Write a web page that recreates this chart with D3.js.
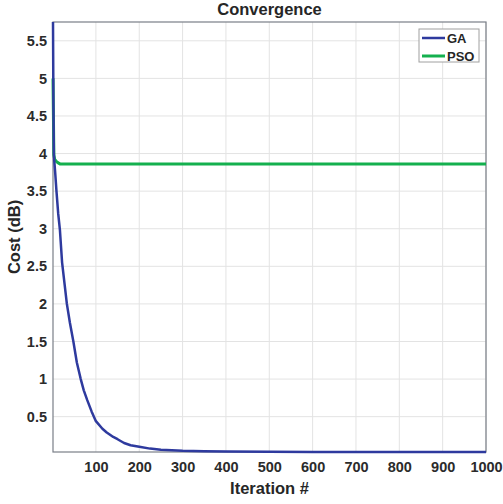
<!DOCTYPE html>
<html>
<head>
<meta charset="utf-8">
<script src="https://cdn.jsdelivr.net/npm/d3@7"></script>
<style>
body { margin: 0; background: #fff; }
text { font-family: "Liberation Sans", Arial, sans-serif; font-weight: bold; fill: #262626; }
.grid-line { stroke: #e3e3e3; stroke-width: 1; }
</style>
</head>
<body>
<div id="chart"></div>
<script>
// iterations + cost
var gaIter = [1, 2, 3, 4, 6, 9, 13, 17, 22, 28, 33, 40, 48, 56, 65, 72, 80, 90, 100, 115, 125, 140, 150, 165, 180, 200, 225, 250, 300, 350, 400, 500, 600, 1000];
var gaCost = [5.75, 4.65, 4.0, 3.9, 3.75, 3.5, 3.2, 2.98, 2.55, 2.25, 2.0, 1.75, 1.5, 1.22, 1.0, 0.85, 0.72, 0.57, 0.44, 0.34, 0.29, 0.23, 0.2, 0.15, 0.12, 0.1, 0.075, 0.06, 0.045, 0.04, 0.035, 0.032, 0.03, 0.03];
var psoIter = [1, 3, 5, 8, 12, 18, 1000];
var psoCost = [5.0, 3.98, 3.92, 3.9, 3.88, 3.86, 3.86];

var xTicks = [100, 200, 300, 400, 500, 600, 700, 800, 900, 1000];
var yTicks = [0.5, 1, 1.5, 2, 2.5, 3, 3.5, 4, 4.5, 5, 5.5];
var seriesNames = ["GA", "PSO"];
var colours = ["#2e3a9e", "#14b04e"];

var margin = { top: 22, right: 17, bottom: 52, left: 53 };
var width = 503 - margin.left - margin.right,
    height = 504 - margin.top - margin.bottom;

var svg = d3.select("#chart").append("svg")
    .attr("width", 503)
    .attr("height", 504)
    .append("g")
    .attr("transform", "translate(" + margin.left + "," + margin.top + ")");

var x = d3.scaleLinear().domain([1, 1000]).range([0, width]);
var y = d3.scaleLinear().domain([0.03, 5.75]).range([height, 0]);

// grid
svg.append("g").selectAll("line")
    .data(xTicks)
    .enter().append("line")
    .attr("class", "grid-line")
    .attr("x1", function(d) { return x(d); })
    .attr("x2", function(d) { return x(d); })
    .attr("y1", 0)
    .attr("y2", height);
svg.append("g").selectAll("line")
    .data(yTicks)
    .enter().append("line")
    .attr("class", "grid-line")
    .attr("x1", 0)
    .attr("x2", width)
    .attr("y1", function(d) { return y(d); })
    .attr("y2", function(d) { return y(d); });

// axes
var xAxis = d3.axisBottom(x).tickValues(xTicks).tickSize(0).tickPadding(10)
    .tickFormat(function(d) { return d; });
var yAxis = d3.axisLeft(y).tickValues(yTicks).tickSize(0).tickPadding(6)
    .tickFormat(function(d) { return d; });

var xAxisElem = svg.append("g")
    .attr("transform", "translate(0," + height + ")")
    .call(xAxis);
var yAxisElem = svg.append("g").call(yAxis);
[xAxisElem, yAxisElem].forEach(function(g) {
    g.select(".domain").remove();
    g.selectAll("text").style("font-size", "14.5px").style("fill", "#2b2b2b");
});

// box
svg.append("rect")
    .attr("width", width)
    .attr("height", height)
    .style("fill", "none")
    .style("stroke", "#7a7f88")
    .style("stroke-width", 1.2);

// lines
var line = d3.line()
    .x(function(d) { return x(d[0]); })
    .y(function(d) { return y(d[1]); });

var series = [
    d3.zip(gaIter, gaCost),
    d3.zip(psoIter, psoCost)
];

svg.append("g").selectAll("path")
    .data([series[1], series[0]])
    .enter().append("path")
    .attr("d", line)
    .style("fill", "none")
    .style("stroke", function(d, i) { return i == 0 ? colours[1] : colours[0]; })
    .style("stroke-width", function(d, i) { return i == 0 ? 3 : 2.5; })
    .style("stroke-linejoin", "round");

// title + labels
svg.append("text")
    .attr("x", width / 2)
    .attr("y", -7)
    .attr("text-anchor", "middle")
    .style("font-size", "16.5px")
    .text("Convergence");
svg.append("text")
    .attr("x", width / 2)
    .attr("y", height + 42)
    .attr("text-anchor", "middle")
    .style("font-size", "16.5px")
    .text("Iteration #");
svg.append("text")
    .attr("transform", "rotate(-90) translate(" + [-height / 2, -33] + ")")
    .attr("text-anchor", "middle")
    .style("font-size", "16.5px")
    .text("Cost (dB)");

// legend
var legend = svg.append("g")
    .attr("transform", "translate(" + (419 - margin.left) + "," + (29 - margin.top) + ")");
legend.append("rect")
    .attr("width", 60)
    .attr("height", 33)
    .style("fill", "#fff")
    .style("stroke", "#a0a0a0")
    .style("stroke-width", 1);
var items = legend.selectAll(".item")
    .data(seriesNames)
    .enter().append("g")
    .attr("transform", function(d, i) { return "translate(0," + (9 + i * 18) + ")"; });
items.append("line")
    .attr("x1", 3)
    .attr("x2", 26)
    .style("stroke", function(d, i) { return colours[i]; })
    .style("stroke-width", function(d, i) { return i == 0 ? 2.5 : 3; });
items.append("text")
    .attr("x", 28)
    .attr("y", 5)
    .style("font-size", "13px")
    .text(function(d) { return d; });
</script>
</body>
</html>
